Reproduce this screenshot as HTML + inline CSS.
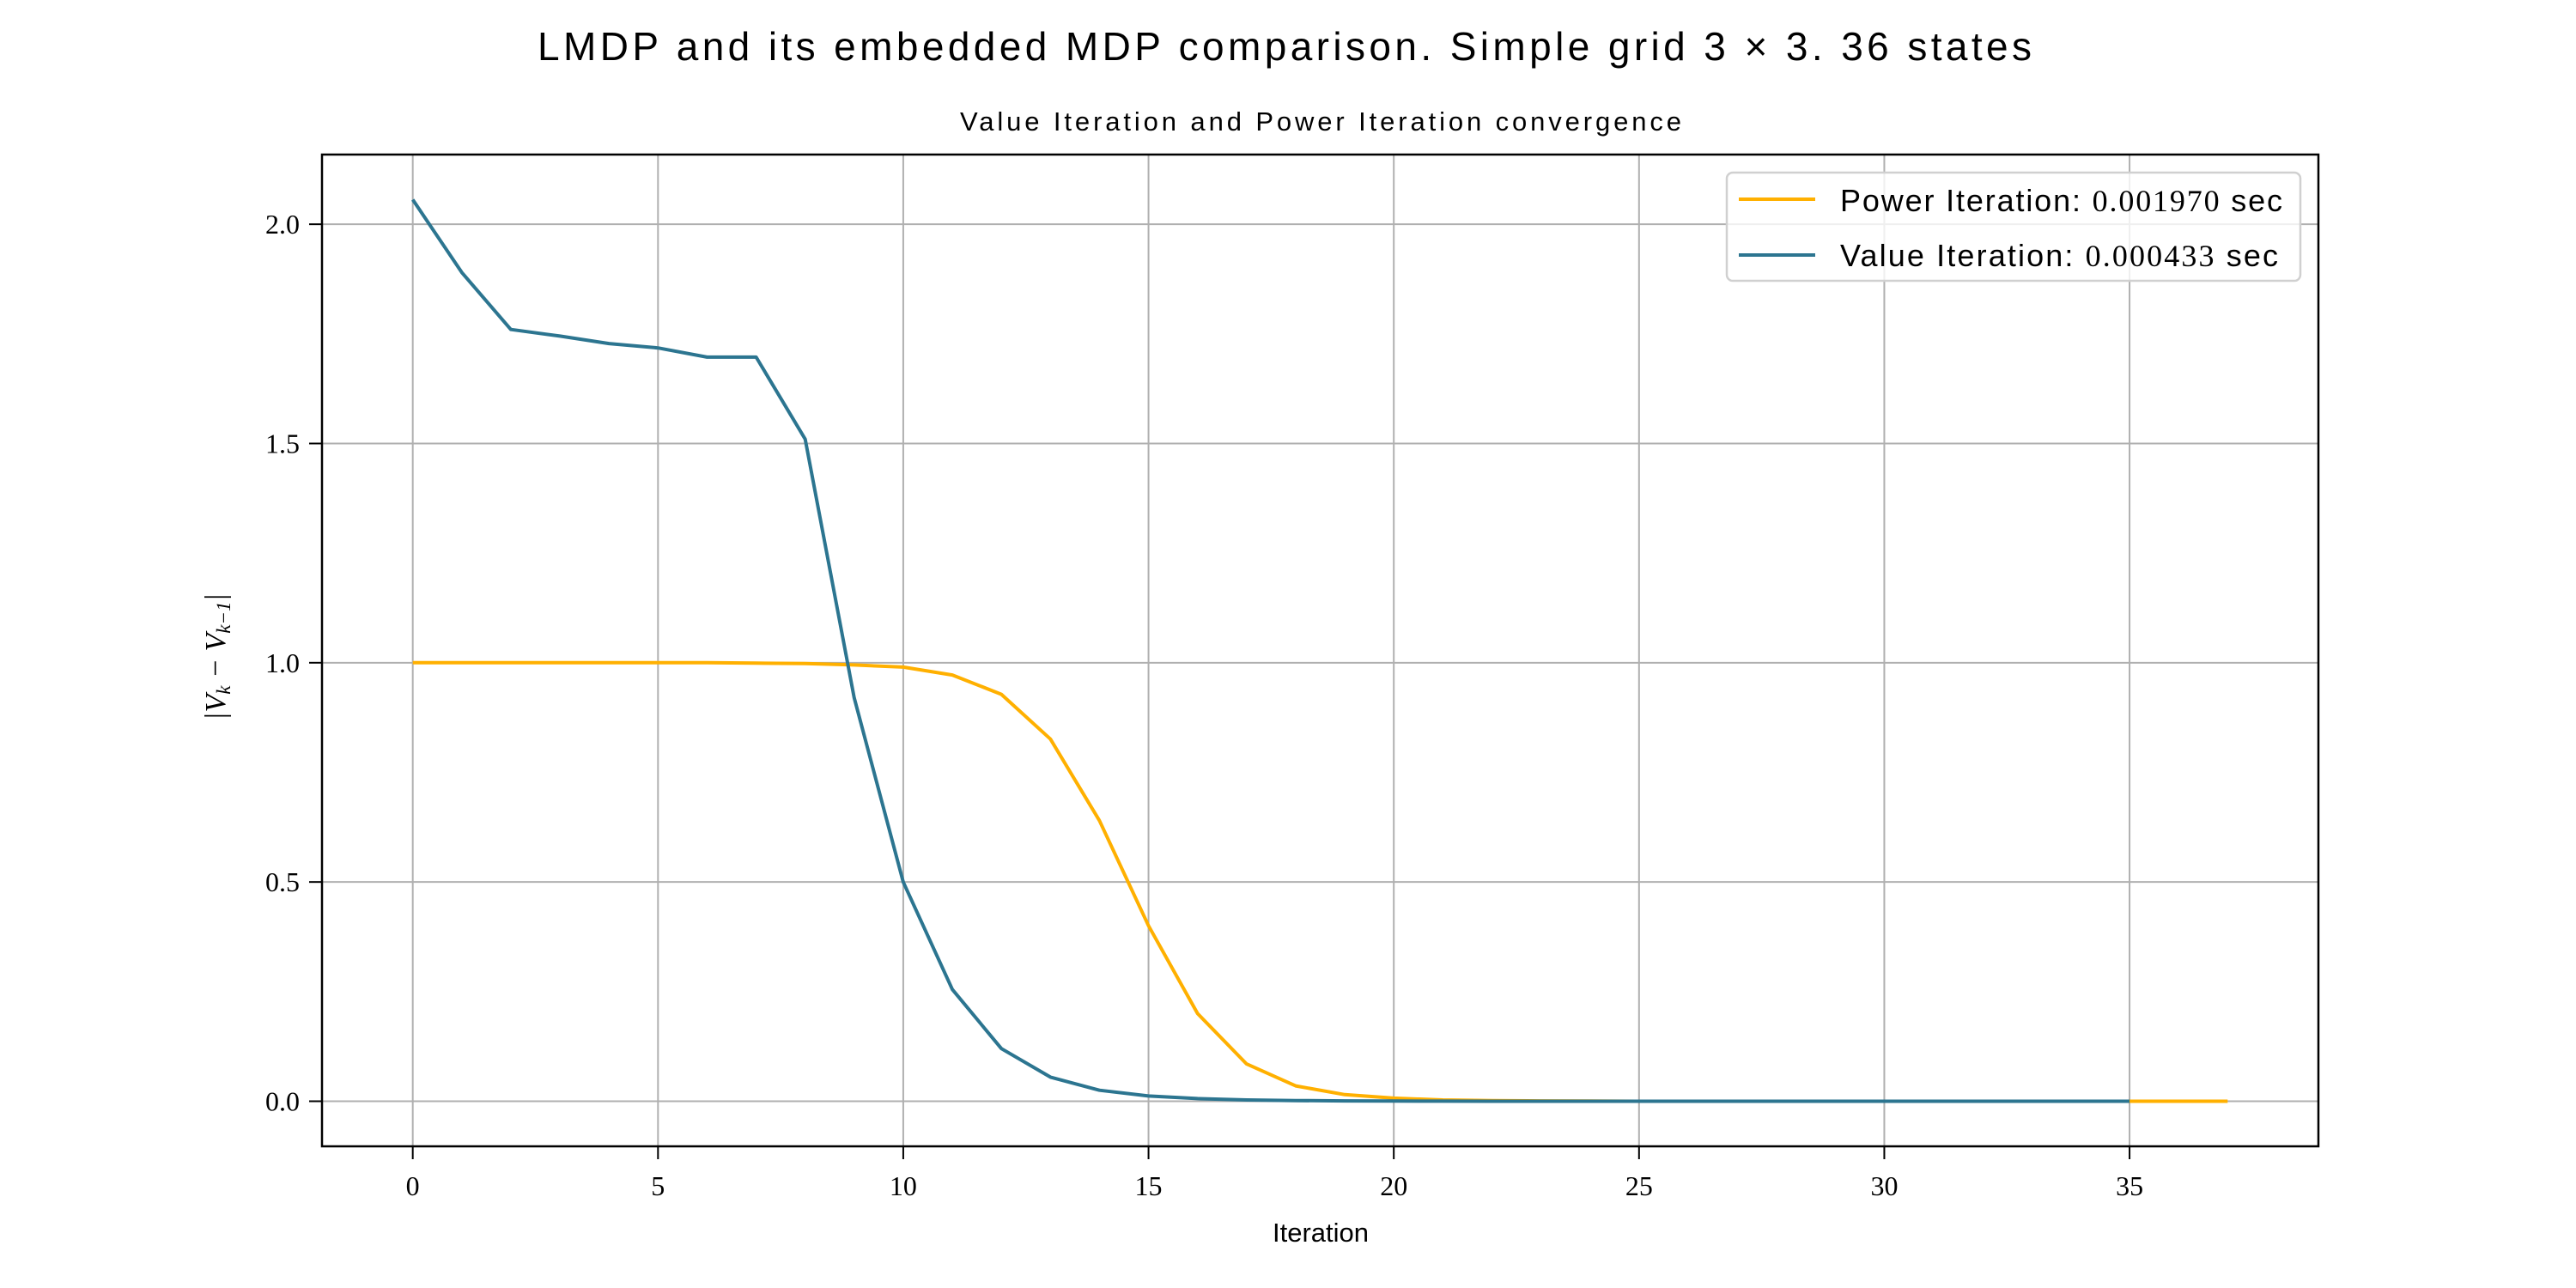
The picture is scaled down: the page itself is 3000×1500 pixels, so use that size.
<!DOCTYPE html>
<html><head><meta charset="utf-8"><style>
html,body{margin:0;padding:0;background:#fff;}
svg{display:block;}
text{font-family:"Liberation Sans",sans-serif;fill:#000;}
.serif{font-family:"Liberation Serif",serif;}
</style></head><body>
<svg id="chart" width="3000" height="1500" viewBox="0 0 3000 1500" xmlns="http://www.w3.org/2000/svg">
<text x="1496" y="70" font-size="46" text-anchor="middle" textLength="1740">LMDP and its embedded MDP comparison. Simple grid 3 × 3. 36 states</text>
<text x="1538" y="152" font-size="31" text-anchor="middle" textLength="840">Value Iteration and Power Iteration convergence</text>
<g id="grid"></g>
<g id="ticks"></g>
<g id="series"></g>
<rect x="375" y="180" width="2325" height="1155" fill="none" stroke="#000" stroke-width="2.5"/>
<text x="1538" y="1446" font-size="31" text-anchor="middle">Iteration</text>
<text transform="translate(262,765) rotate(-90)" font-size="34" text-anchor="middle" class="serif" font-style="italic">|V<tspan font-size="23" dy="6">k</tspan><tspan dy="-6"> − V</tspan><tspan font-size="23" dy="6">k−1</tspan><tspan dy="-6">|</tspan></text>
<g>
<rect x="2011" y="201" width="668" height="126" rx="7" fill="#fff" fill-opacity="0.8" stroke="#d0d0d0" stroke-width="2.5"/>
<line x1="2025" y1="232" x2="2114" y2="232" stroke="#ffb000" stroke-width="4"/>
<text x="2143" y="246" font-size="36" textLength="515">Power Iteration: <tspan class="serif">0.001970</tspan> sec</text>
<line x1="2025" y1="297" x2="2114" y2="297" stroke="#2c7590" stroke-width="4"/>
<text x="2143" y="310" font-size="36" textLength="510">Value Iteration: <tspan class="serif">0.000433</tspan> sec</text>
</g>
</svg>
<script>
const xTicks = [0,5,10,15,20,25,30,35];
const yTicks = [0.0,0.5,1.0,1.5,2.0];
const yTickLabels = ["0.0","0.5","1.0","1.5","2.0"];
const powerValues = [1.0,1.0,1.0,1.0,1.0,1.0,1.0,0.999,0.998,0.995,0.99,0.972,0.928,0.826,0.64,0.40,0.20,0.085,0.035,0.015,0.007,0.003,0.0015,0.0007,0.0003,0,0,0,0,0,0,0,0,0,0,0,0,0];
const valueValues = [2.056,1.89,1.76,1.745,1.728,1.718,1.697,1.697,1.51,0.92,0.50,0.255,0.12,0.055,0.025,0.012,0.006,0.003,0.0015,0.0008,0.0004,0.0002,0.0001,0,0,0,0,0,0,0,0,0,0,0,0,0];
const NS="http://www.w3.org/2000/svg";
const X0=375,X1=2700,Y0=180,Y1=1335;
const xmin=-1.85,xmax=38.85,ymin=-0.1028,ymax=2.1589;
function sx(v){return X0+(v-xmin)/(xmax-xmin)*(X1-X0);}
function sy(v){return Y1-(v-ymin)/(ymax-ymin)*(Y1-Y0);}
function mk(tag,attrs,parent){const e=document.createElementNS(NS,tag);for(const k in attrs)e.setAttribute(k,attrs[k]);parent.appendChild(e);return e;}
const grid=document.getElementById('grid'),ticks=document.getElementById('ticks'),series=document.getElementById('series');
xTicks.forEach(t=>{
  const x=sx(t);
  const g=mk('line',{x1:x,y1:Y0,x2:x,y2:Y1,stroke:'#b0b0b0','stroke-width':2},grid);
  
  
  const tk=mk('line',{x1:x,y1:Y1,x2:x,y2:Y1+15,stroke:'#000','stroke-width':2},ticks);
  
  
  const lb=mk('text',{x:x,y:1392,'font-size':32,'text-anchor':'middle',class:'serif'},ticks);
  lb.textContent=String(t);
  
  
});
yTicks.forEach((t,i)=>{
  const y=sy(t);
  const g=mk('line',{x1:X0,y1:y,x2:X1,y2:y,stroke:'#b0b0b0','stroke-width':2},grid);
  
  
  const tk=mk('line',{x1:X0-15,y1:y,x2:X0,y2:y,stroke:'#000','stroke-width':2},ticks);
  
  
  const lb=mk('text',{x:349,y:y+11,'font-size':32,'text-anchor':'end',class:'serif'},ticks);
  lb.textContent=yTickLabels[i];
  
  
});
function line(vals,color,name){
  const pts=vals.map((v,i)=>sx(i).toFixed(1)+','+sy(v).toFixed(1)).join(' ');
  const p=mk('polyline',{points:pts,fill:'none',stroke:color,'stroke-width':4,'stroke-linejoin':'round'},series);
  
  
}
line(powerValues,'#ffb000','power-iteration-line');
line(valueValues,'#2c7590','value-iteration-line');
</script>
</body></html>
